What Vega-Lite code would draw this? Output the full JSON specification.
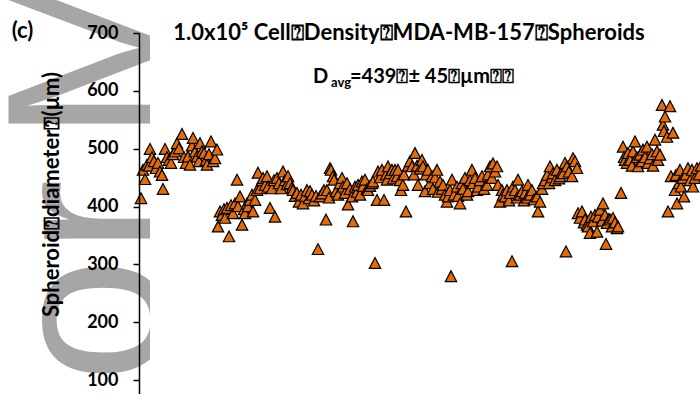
{
  "$schema": "https://vega.github.io/schema/vega-lite/v6.json",
  "width": 561,
  "height": 361,
  "autosize": {"type": "none"},
  "padding": {"left": 139, "top": 33, "right": 0, "bottom": 0},
  "background": "white",
  "config": {"view": {"stroke": null}},
  "datasets": {
    "spheroids": [
      {"n":2,"d":414},{"n":4,"d":463},{"n":6,"d":447},{"n":8,"d":472},{"n":10,"d":470},{"n":11,"d":499},{"n":13,"d":485},{"n":15,"d":478},{"n":17,"d":466},{"n":19,"d":475},
      {"n":21,"d":460},{"n":23,"d":454},{"n":24,"d":430},{"n":26,"d":499},{"n":28,"d":485},{"n":30,"d":480},{"n":32,"d":475},{"n":34,"d":490},{"n":36,"d":495},{"n":38,"d":509},
      {"n":40,"d":500},{"n":43,"d":525},{"n":45,"d":485},{"n":47,"d":475},{"n":49,"d":486},{"n":51,"d":472},{"n":53,"d":505},{"n":54,"d":518},{"n":56,"d":495},{"n":58,"d":486},
      {"n":60,"d":478},{"n":61,"d":509},{"n":63,"d":495},{"n":65,"d":492},{"n":67,"d":480},{"n":68,"d":472},{"n":70,"d":490},{"n":72,"d":512},{"n":74,"d":478},{"n":76,"d":483},
      {"n":78,"d":498},
      {"n":79,"d":365},{"n":81,"d":391},{"n":83,"d":385},{"n":85,"d":395},{"n":86,"d":380},{"n":88,"d":397},{"n":90,"d":348},{"n":92,"d":402},{"n":94,"d":388},{"n":96,"d":405},
      {"n":98,"d":446},{"n":99,"d":400},{"n":101,"d":417},{"n":103,"d":368},{"n":105,"d":395},{"n":106,"d":388},{"n":108,"d":405},{"n":109,"d":400},{"n":111,"d":411},{"n":113,"d":420},
      {"n":114,"d":391},{"n":116,"d":411},{"n":118,"d":428},{"n":119,"d":458},{"n":121,"d":431},{"n":123,"d":445},{"n":124,"d":449},{"n":126,"d":437},{"n":128,"d":452},{"n":129,"d":434},
      {"n":131,"d":397},{"n":133,"d":431},{"n":135,"d":445},{"n":136,"d":382},{"n":138,"d":449},{"n":140,"d":440},{"n":142,"d":431},{"n":144,"d":460},{"n":146,"d":445},{"n":148,"d":438},
      {"n":149,"d":452},{"n":151,"d":440},{"n":153,"d":432},{"n":154,"d":428},{"n":156,"d":418},{"n":158,"d":423},{"n":160,"d":408},{"n":162,"d":420},{"n":164,"d":405},{"n":166,"d":418},
      {"n":168,"d":428},{"n":170,"d":414},{"n":171,"d":426},{"n":173,"d":420},{"n":175,"d":410},{"n":177,"d":418},{"n":179,"d":326},{"n":181,"d":417},{"n":183,"d":422},{"n":185,"d":428},
      {"n":187,"d":377},{"n":188,"d":428},{"n":190,"d":415},
      {"n":191,"d":466},{"n":192,"d":463},{"n":194,"d":452},{"n":195,"d":446},{"n":197,"d":426},{"n":199,"d":420},{"n":201,"d":440},{"n":203,"d":449},{"n":204,"d":434},{"n":206,"d":423},
      {"n":208,"d":440},{"n":209,"d":403},{"n":211,"d":430},{"n":213,"d":417},{"n":214,"d":374},{"n":216,"d":434},{"n":218,"d":425},{"n":219,"d":437},{"n":221,"d":420},{"n":223,"d":443},
      {"n":224,"d":435},{"n":226,"d":446},{"n":228,"d":430},{"n":229,"d":428},{"n":231,"d":435},{"n":233,"d":440},{"n":234,"d":443},{"n":236,"d":302},{"n":238,"d":411},{"n":239,"d":460},
      {"n":241,"d":450},{"n":243,"d":463},{"n":245,"d":411},{"n":247,"d":455},{"n":248,"d":446},{"n":249,"d":469},{"n":251,"d":457},{"n":253,"d":463},{"n":254,"d":448},{"n":256,"d":463},
      {"n":258,"d":452},{"n":259,"d":463},{"n":261,"d":445},{"n":262,"d":428},{"n":264,"d":437},{"n":265,"d":455},{"n":267,"d":391},{"n":269,"d":470},{"n":271,"d":478},{"n":273,"d":469},
      {"n":275,"d":455},{"n":276,"d":492},{"n":278,"d":470},{"n":279,"d":437},{"n":281,"d":465},{"n":283,"d":480},{"n":284,"d":469},{"n":286,"d":426},{"n":287,"d":455},{"n":289,"d":463},
      {"n":291,"d":440},{"n":293,"d":452},{"n":294,"d":430},{"n":296,"d":450},{"n":298,"d":463},{"n":299,"d":425},{"n":301,"d":443},{"n":303,"d":430},{"n":304,"d":437},{"n":306,"d":420},
      {"n":308,"d":408},{"n":309,"d":417},{"n":311,"d":428},{"n":312,"d":279},{"n":313,"d":446},{"n":315,"d":420},{"n":318,"d":434},{"n":319,"d":418},{"n":321,"d":405},{"n":323,"d":440},
      {"n":324,"d":430},{"n":326,"d":449},{"n":328,"d":420},{"n":329,"d":426},{"n":331,"d":445},{"n":333,"d":463},{"n":334,"d":440},{"n":336,"d":449},{"n":338,"d":428},{"n":339,"d":434},
      {"n":341,"d":445},{"n":343,"d":452},{"n":345,"d":430},{"n":348,"d":437},{"n":349,"d":455},{"n":351,"d":469},{"n":353,"d":449},{"n":354,"d":474},{"n":356,"d":460},{"n":358,"d":469},
      {"n":359,"d":437},{"n":361,"d":408},{"n":363,"d":428},{"n":364,"d":420},{"n":366,"d":417},{"n":368,"d":428},{"n":370,"d":410},{"n":371,"d":423},{"n":373,"d":305},{"n":374,"d":434},
      {"n":376,"d":428},{"n":378,"d":415},{"n":379,"d":446},{"n":381,"d":420},{"n":383,"d":426},{"n":385,"d":410},{"n":386,"d":423},{"n":388,"d":415},{"n":389,"d":437},{"n":391,"d":420},
      {"n":393,"d":428},{"n":395,"d":412},{"n":398,"d":417},{"n":399,"d":391},{"n":401,"d":408},{"n":403,"d":430},{"n":404,"d":440},{"n":406,"d":445},{"n":408,"d":454},{"n":410,"d":440},
      {"n":411,"d":469},{"n":413,"d":450},{"n":414,"d":457},{"n":416,"d":445},{"n":418,"d":463},{"n":420,"d":448},{"n":421,"d":452},{"n":423,"d":460},{"n":424,"d":457},{"n":426,"d":475},
      {"n":427,"d":322},{"n":428,"d":469},{"n":430,"d":460},{"n":433,"d":452},{"n":434,"d":483},{"n":436,"d":478},{"n":438,"d":466},
      {"n":439,"d":388},{"n":441,"d":380},{"n":443,"d":391},{"n":445,"d":372},{"n":446,"d":377},{"n":448,"d":368},{"n":449,"d":365},{"n":451,"d":354},{"n":452,"d":382},{"n":454,"d":374},
      {"n":456,"d":385},{"n":458,"d":356},{"n":459,"d":382},{"n":461,"d":394},{"n":463,"d":375},{"n":464,"d":405},{"n":466,"d":385},{"n":467,"d":335},{"n":468,"d":371},{"n":470,"d":378},
      {"n":471,"d":377},{"n":473,"d":365},{"n":474,"d":380},{"n":476,"d":372},{"n":478,"d":362},{"n":479,"d":365},{"n":482,"d":423},
      {"n":484,"d":503},{"n":485,"d":485},{"n":486,"d":480},{"n":488,"d":475},{"n":489,"d":492},{"n":491,"d":480},{"n":493,"d":470},{"n":494,"d":495},{"n":496,"d":512},{"n":498,"d":485},
      {"n":499,"d":469},{"n":501,"d":489},{"n":503,"d":478},{"n":504,"d":498},{"n":506,"d":485},{"n":508,"d":503},{"n":509,"d":475},{"n":511,"d":483},{"n":513,"d":490},{"n":514,"d":470},
      {"n":516,"d":515},{"n":518,"d":495},{"n":519,"d":480},{"n":521,"d":489},{"n":523,"d":575},{"n":524,"d":541},{"n":525,"d":530},{"n":526,"d":555},{"n":528,"d":520},{"n":529,"d":391},
      {"n":531,"d":573},{"n":532,"d":452},{"n":534,"d":527},{"n":536,"d":428},{"n":537,"d":454},{"n":538,"d":405},{"n":540,"d":440},{"n":541,"d":463},{"n":542,"d":434},{"n":544,"d":449},
      {"n":545,"d":417},{"n":547,"d":455},{"n":549,"d":466},{"n":551,"d":445},{"n":553,"d":463},{"n":554,"d":434},{"n":556,"d":449},{"n":558,"d":466},{"n":560,"d":455},{"n":562,"d":470}
    ]
  },
  "layer": [
    {
      "data": {"values": [{"x": 24, "y": 311.9, "t": "Autho"}]},
      "mark": {"type": "text", "font": "Liberation Sans", "fontSize": 225, "color": "#a6a6a6", "angle": 270, "align": "right", "baseline": "alphabetic"},
      "encoding": {
        "x": {"field": "x", "type": "quantitative", "scale": {"domain": [0, 561], "nice": false, "zero": false}, "axis": null},
        "y": {"field": "y", "type": "quantitative", "scale": {"domain": [76, 700], "nice": false, "zero": false},
          "axis": {"values": [100, 200, 300, 400, 500, 600, 700], "grid": false, "labelFont": "Lato", "labelFontWeight": "bold", "labelFontSize": 18, "labelColor": "black", "labelPadding": 15, "tickSize": 6, "tickColor": "black", "tickWidth": 1.5, "domainColor": "black", "domainWidth": 1.5, "title": "Spheroid⍰diameter⍰(µm)", "titleFont": "Lato", "titleFontWeight": "bold", "titleFontSize": 22, "titleColor": "black", "titleAngle": 270, "titleAlign": "center", "titleBaseline": "middle", "titleX": -88, "titleY": 161, "zindex": 1}},
        "text": {"field": "t"}
      }
    },
    {
      "data": {"values": [
        {"x": 24, "y": 318, "t": "r"},
        {"x": 24, "y": 511.6, "t": "Manuscript"}
      ]},
      "mark": {"type": "text", "font": "Liberation Sans", "fontSize": 225, "color": "#a6a6a6", "angle": 270, "align": "left", "baseline": "alphabetic"},
      "encoding": {
        "x": {"field": "x", "type": "quantitative", "scale": {"domain": [0, 561], "nice": false, "zero": false}, "axis": null},
        "y": {"field": "y", "type": "quantitative", "scale": {"domain": [76, 700], "nice": false, "zero": false},
          "axis": {"values": [100, 200, 300, 400, 500, 600, 700], "grid": false, "labelFont": "Lato", "labelFontWeight": "bold", "labelFontSize": 18, "labelColor": "black", "labelPadding": 15, "tickSize": 6, "tickColor": "black", "tickWidth": 1.5, "domainColor": "black", "domainWidth": 1.5, "title": "Spheroid⍰diameter⍰(µm)", "titleFont": "Lato", "titleFontWeight": "bold", "titleFontSize": 22, "titleColor": "black", "titleAngle": 270, "titleAlign": "center", "titleBaseline": "middle", "titleX": -88, "titleY": 161, "zindex": 1}},
        "text": {"field": "t"}
      }
    },
    {
      "data": {"values": [{"a": 11, "b": 620, "lo": 40, "hi": 780}]},
      "mark": {"type": "rect", "color": "white"},
      "encoding": {
        "x": {"field": "a", "type": "quantitative", "scale": {"domain": [0, 561], "nice": false, "zero": false}, "axis": null},
        "x2": {"field": "b"},
        "y": {"field": "lo", "type": "quantitative", "scale": {"domain": [76, 700], "nice": false, "zero": false},
          "axis": {"values": [100, 200, 300, 400, 500, 600, 700], "grid": false, "labelFont": "Lato", "labelFontWeight": "bold", "labelFontSize": 18, "labelColor": "black", "labelPadding": 15, "tickSize": 6, "tickColor": "black", "tickWidth": 1.5, "domainColor": "black", "domainWidth": 1.5, "title": "Spheroid⍰diameter⍰(µm)", "titleFont": "Lato", "titleFontWeight": "bold", "titleFontSize": 22, "titleColor": "black", "titleAngle": 270, "titleAlign": "center", "titleBaseline": "middle", "titleX": -88, "titleY": 161, "zindex": 1}},
        "y2": {"field": "hi"}
      }
    },
    {
      "data": {"name": "spheroids"},
      "mark": {"type": "point", "shape": "M0,-1L1,0.9L-1,0.9Z", "filled": true, "size": 130, "fill": "#E36C09", "stroke": "black", "strokeWidth": 1.2, "opacity": 1},
      "encoding": {
        "x": {"field": "n", "type": "quantitative", "scale": {"domain": [0, 561], "nice": false, "zero": false}, "axis": null},
        "y": {"field": "d", "type": "quantitative", "scale": {"domain": [76, 700], "nice": false, "zero": false},
          "axis": {"values": [100, 200, 300, 400, 500, 600, 700], "grid": false, "labelFont": "Lato", "labelFontWeight": "bold", "labelFontSize": 18, "labelColor": "black", "labelPadding": 15, "tickSize": 6, "tickColor": "black", "tickWidth": 1.5, "domainColor": "black", "domainWidth": 1.5, "title": "Spheroid⍰diameter⍰(µm)", "titleFont": "Lato", "titleFontWeight": "bold", "titleFontSize": 22, "titleColor": "black", "titleAngle": 270, "titleAlign": "center", "titleBaseline": "middle", "titleX": -88, "titleY": 161, "zindex": 1}}
      }
    },
    {
      "data": {"values": [
        {"x": 270, "y": 688, "t": "1.0x10⁵ Cell⍰Density⍰MDA-MB-157⍰Spheroids", "s": 22},
        {"x": 181.5, "y": 614, "t": "D", "s": 20},
        {"x": 293, "y": 614, "t": "=439⍰± 45⍰µm⍰⍰", "s": 20},
        {"x": 202, "y": 607, "t": "avg", "s": 13},
        {"x": -116.5, "y": 691, "t": "(c)", "s": 22}
      ]},
      "mark": {"type": "text", "font": "Lato", "fontWeight": "bold", "color": "black", "align": "center", "baseline": "alphabetic"},
      "encoding": {
        "x": {"field": "x", "type": "quantitative", "scale": {"domain": [0, 561], "nice": false, "zero": false}, "axis": null},
        "y": {"field": "y", "type": "quantitative", "scale": {"domain": [76, 700], "nice": false, "zero": false},
          "axis": {"values": [100, 200, 300, 400, 500, 600, 700], "grid": false, "labelFont": "Lato", "labelFontWeight": "bold", "labelFontSize": 18, "labelColor": "black", "labelPadding": 15, "tickSize": 6, "tickColor": "black", "tickWidth": 1.5, "domainColor": "black", "domainWidth": 1.5, "title": "Spheroid⍰diameter⍰(µm)", "titleFont": "Lato", "titleFontWeight": "bold", "titleFontSize": 22, "titleColor": "black", "titleAngle": 270, "titleAlign": "center", "titleBaseline": "middle", "titleX": -88, "titleY": 161, "zindex": 1}},
        "text": {"field": "t"},
        "size": {"field": "s", "type": "quantitative", "scale": null, "legend": null}
      }
    }
  ]
}
